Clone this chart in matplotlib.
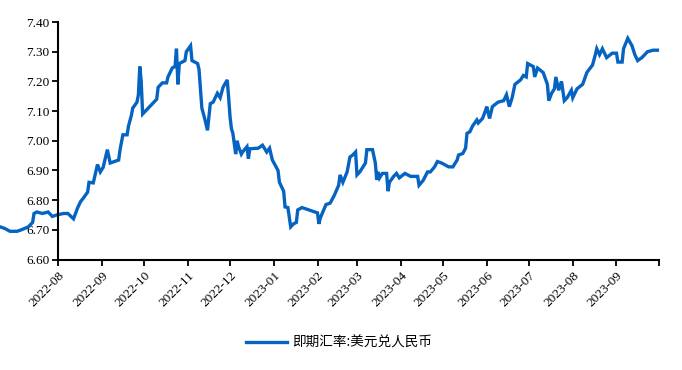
import matplotlib
matplotlib.use("Agg")
import matplotlib.pyplot as plt
import matplotlib.dates as mdates
import pandas as pd

dates = [
    "2022-06-21", "2022-06-24", "2022-06-28", "2022-07-03", "2022-07-06", "2022-07-11",
    "2022-07-14", "2022-07-15", "2022-07-17", "2022-07-21", "2022-07-25", "2022-07-28",
    "2022-07-31", "2022-08-05", "2022-08-08", "2022-08-12", "2022-08-15", "2022-08-17",
    "2022-08-19", "2022-08-22", "2022-08-23", "2022-08-26", "2022-08-29", "2022-08-31",
    "2022-09-02", "2022-09-05", "2022-09-07", "2022-09-13", "2022-09-14", "2022-09-16",
    "2022-09-19", "2022-09-20", "2022-09-22", "2022-09-23", "2022-09-26", "2022-09-27",
    "2022-09-28", "2022-09-29", "2022-09-30", "2022-10-10", "2022-10-11", "2022-10-14",
    "2022-10-17", "2022-10-18", "2022-10-21", "2022-10-23", "2022-10-24", "2022-10-25",
    "2022-10-26", "2022-10-30", "2022-10-31", "2022-11-03", "2022-11-04", "2022-11-08",
    "2022-11-09", "2022-11-11", "2022-11-13", "2022-11-15", "2022-11-17", "2022-11-19",
    "2022-11-22", "2022-11-24", "2022-11-26", "2022-11-29", "2022-11-30", "2022-12-01",
    "2022-12-02", "2022-12-03", "2022-12-05", "2022-12-06", "2022-12-07", "2022-12-09",
    "2022-12-10", "2022-12-13", "2022-12-14", "2022-12-15", "2022-12-21", "2022-12-24",
    "2022-12-27", "2022-12-29", "2022-12-30", "2022-12-31", "2023-01-04", "2023-01-05",
    "2023-01-08", "2023-01-09", "2023-01-11", "2023-01-13", "2023-01-15", "2023-01-17",
    "2023-01-18", "2023-01-21", "2023-02-01", "2023-02-02", "2023-02-03", "2023-02-07",
    "2023-02-10", "2023-02-13", "2023-02-16", "2023-02-17", "2023-02-19", "2023-02-22",
    "2023-02-24", "2023-02-26", "2023-02-28", "2023-03-01", "2023-03-03", "2023-03-05",
    "2023-03-07", "2023-03-08", "2023-03-12", "2023-03-14", "2023-03-15", "2023-03-16",
    "2023-03-17", "2023-03-19", "2023-03-22", "2023-03-23", "2023-03-24", "2023-03-27",
    "2023-03-29", "2023-03-31", "2023-04-04", "2023-04-08", "2023-04-13", "2023-04-14",
    "2023-04-17", "2023-04-20", "2023-04-22", "2023-04-25", "2023-04-27", "2023-04-30",
    "2023-05-05", "2023-05-08", "2023-05-11", "2023-05-12", "2023-05-15", "2023-05-17",
    "2023-05-18", "2023-05-20", "2023-05-22", "2023-05-25", "2023-05-26", "2023-05-29",
    "2023-05-31", "2023-06-01", "2023-06-03", "2023-06-05", "2023-06-09", "2023-06-13",
    "2023-06-15", "2023-06-17", "2023-06-19", "2023-06-21", "2023-06-25", "2023-06-27",
    "2023-06-29", "2023-06-30", "2023-07-04", "2023-07-05", "2023-07-07", "2023-07-11",
    "2023-07-14", "2023-07-15", "2023-07-17", "2023-07-19", "2023-07-20", "2023-07-22",
    "2023-07-24", "2023-07-26", "2023-07-28", "2023-07-31", "2023-08-01", "2023-08-04",
    "2023-08-08", "2023-08-11", "2023-08-15", "2023-08-17", "2023-08-18", "2023-08-20",
    "2023-08-22", "2023-08-25", "2023-08-29", "2023-09-01", "2023-09-02", "2023-09-05",
    "2023-09-06", "2023-09-09", "2023-09-12", "2023-09-14", "2023-09-16", "2023-09-19",
    "2023-09-23", "2023-09-27", "2023-09-30",
]

usd_cny = [
    6.710, 6.705, 6.695, 6.695, 6.700, 6.710,
    6.725, 6.755, 6.760, 6.755, 6.760, 6.745,
    6.750, 6.755, 6.755, 6.737, 6.775, 6.795,
    6.807, 6.827, 6.860, 6.858, 6.920, 6.895,
    6.910, 6.970, 6.925, 6.935, 6.970, 7.020,
    7.020, 7.050, 7.085, 7.110, 7.130, 7.155,
    7.250, 7.200, 7.090, 7.140, 7.180, 7.195,
    7.195, 7.215, 7.245, 7.250, 7.310, 7.190,
    7.260, 7.270, 7.300, 7.320, 7.270, 7.260,
    7.240, 7.110, 7.075, 7.035, 7.125, 7.130,
    7.160, 7.145, 7.180, 7.205, 7.145, 7.080,
    7.040, 7.025, 6.955, 7.000, 6.980, 6.955,
    6.963, 6.980, 6.940, 6.973, 6.975, 6.985,
    6.962, 6.975, 6.955, 6.935, 6.900, 6.860,
    6.830, 6.777, 6.775, 6.710, 6.720, 6.725,
    6.767, 6.775, 6.757, 6.720, 6.740, 6.785,
    6.790, 6.817, 6.850, 6.885, 6.860, 6.895,
    6.945, 6.952, 6.962, 6.885, 6.895, 6.910,
    6.925, 6.970, 6.970, 6.925, 6.868, 6.895,
    6.875, 6.890, 6.890, 6.830, 6.860, 6.880,
    6.890, 6.875, 6.890, 6.880, 6.880, 6.850,
    6.867, 6.895, 6.895, 6.912, 6.930, 6.925,
    6.912, 6.912, 6.935, 6.952, 6.957, 6.975,
    7.025, 7.030, 7.050, 7.070, 7.060, 7.075,
    7.100, 7.115, 7.075, 7.115, 7.130, 7.135,
    7.155, 7.115, 7.145, 7.190, 7.205, 7.220,
    7.215, 7.260, 7.250, 7.215, 7.245, 7.230,
    7.190, 7.135, 7.160, 7.175, 7.215, 7.170,
    7.200, 7.135, 7.145, 7.170, 7.145, 7.175,
    7.190, 7.230, 7.255, 7.290, 7.310, 7.290,
    7.310, 7.280, 7.295, 7.295, 7.265, 7.265,
    7.310, 7.345, 7.320, 7.290, 7.270, 7.280,
    7.300, 7.305, 7.305,
]

month_ticks = pd.date_range("2022-08-01", "2023-10-01", freq="MS")
tick_labels = [d.strftime("%Y-%m") for d in month_ticks[:-1]] + [""]
y_ticks = [6.60, 6.70, 6.80, 6.90, 7.00, 7.10, 7.20, 7.30, 7.40]
series_name = "即期汇率:美元兑人民币"

plt.rcParams["font.family"] = ["Liberation Serif", "DejaVu Serif"]

fig = plt.figure(figsize=(6.82, 3.70), dpi=100)
ax = fig.add_axes([58 / 682, 1 - 259.5 / 370, (658.8 - 58) / 682, (259.5 - 22) / 370])

x = pd.to_datetime(dates)
line, = ax.plot(x, usd_cny, color="#0563c1", linewidth=2.4, clip_on=False,
                solid_joinstyle="miter", label=series_name)

ax.set_xlim(month_ticks[0], month_ticks[-1])
ax.set_ylim(6.60, 7.40)
ax.set_yticks(y_ticks)
ax.set_yticklabels([f"{v:.2f}" for v in y_ticks])
ax.set_xticks(month_ticks)
ax.set_xticklabels(tick_labels, rotation=45, ha="right", rotation_mode="anchor")

for s in ["top", "right"]:
    ax.spines[s].set_visible(False)
for s in ["left", "bottom"]:
    ax.spines[s].set_linewidth(1.5)
    ax.spines[s].set_color("black")
ax.tick_params(axis="both", direction="out", length=4, width=1.3, labelsize=9.5,
               colors="black", pad=2)
ax.tick_params(axis="x", pad=3)

leg = fig.legend(handles=[line], loc="center", bbox_to_anchor=(0.497, 1 - 343 / 370),
                 frameon=False, handlelength=3.0, handletextpad=0.35,
                 prop={"family": ["Noto Sans CJK SC", "DejaVu Sans"], "size": 9.8})

fig.savefig("out.png", dpi=100)
